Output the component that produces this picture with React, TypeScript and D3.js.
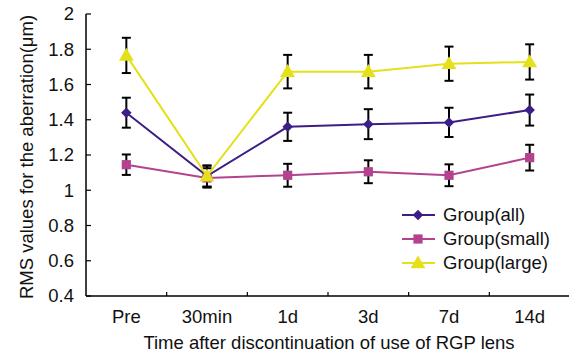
import * as React from 'react'
import * as d3 from 'd3'

const categories = ['Pre', '30min', '1d', '3d', '7d', '14d']
const groupNames = ['Group(all)', 'Group(small)', 'Group(large)']
const allValues = [1.44, 1.08, 1.36, 1.375, 1.385, 1.455]
const allErrors = [0.085, 0.06, 0.08, 0.085, 0.083, 0.088]
const smallValues = [1.145, 1.07, 1.085, 1.105, 1.085, 1.185]
const smallErrors = [0.058, 0.055, 0.065, 0.065, 0.062, 0.073]
const largeValues = [1.765, 1.08, 1.673, 1.673, 1.718, 1.728]
const largeErrors = [0.1, 0.06, 0.095, 0.095, 0.097, 0.1]
const yTicks = [0.4, 0.6, 0.8, 1, 1.2, 1.4, 1.6, 1.8, 2]

const colors = ['#3c1e86', '#b3438f', '#e4e019']
const markerShapes = [d3.symbolDiamond2, d3.symbolSquare, d3.symbolTriangle]
const markerSizes = [70, 85, 95]

const W = 569
const H = 354
const margin = { left: 86, right: -1, top: 14, bottom: 58 }
const font = 'Liberation Sans, Arial, sans-serif'
const fs = 18.5

export default function App() {
  const x = d3.scaleBand().domain(categories).range([margin.left, W - margin.right])
  const y = d3.scaleLinear().domain([0.4, 2]).range([H - margin.bottom, margin.top])
  const cx = (c: string) => (x(c) as number) + x.bandwidth() / 2

  const series = [
    { name: groupNames[0], values: allValues, errors: allErrors },
    { name: groupNames[1], values: smallValues, errors: smallErrors },
    { name: groupNames[2], values: largeValues, errors: largeErrors },
  ]

  const line = d3.line<number>()
    .x((_, i) => cx(categories[i]))
    .y(d => y(d))

  const x0 = margin.left
  const yBottom = y(0.4)

  return (
    <svg width={W} height={H} style={{ position: 'absolute', left: 0, top: 0, fontFamily: font }}>
      <rect width={W} height={H} fill="#fff" />

      {/* axes */}
      <line x1={x0} x2={x0} y1={y(2)} y2={yBottom} stroke="#000" strokeWidth={1.5} />
      <line x1={x0} x2={W} y1={yBottom} y2={yBottom} stroke="#000" strokeWidth={1.5} />
      {yTicks.map(t => (
        <g key={t}>
          <line x1={x0} x2={x0 + 5} y1={y(t)} y2={y(t)} stroke="#000" strokeWidth={1.2} />
          <text x={x0 - 12} y={y(t)} dy="0.35em" textAnchor="end" fontSize={fs} fill="#111">
            {d3.format('~g')(t)}
          </text>
        </g>
      ))}
      {categories.slice(1).map(c => (
        <line key={c} x1={x(c)} x2={x(c)} y1={yBottom} y2={yBottom - 4} stroke="#000" strokeWidth={1.2} />
      ))}
      {categories.map(c => (
        <text key={c} x={cx(c)} y={yBottom + 27} textAnchor="middle" fontSize={fs} fill="#111">{c}</text>
      ))}
      <text x={329} y={349} textAnchor="middle" fontSize={fs} fill="#111">
        Time after discontinuation of use of RGP lens
      </text>
      <text transform={`translate(33,${(y(2) + yBottom) / 2 + 2}) rotate(-90)`} textAnchor="middle" fontSize={fs} fill="#111">
        RMS values for the aberration(μm)
      </text>

      {/* error bars */}
      {series.map((s, si) => (
        <g key={'e' + si}>
          {s.values.map((v, i) => {
            const px = cx(categories[i])
            const top = y(v + s.errors[i])
            const bot = y(v - s.errors[i])
            return (
              <g key={i} stroke="#000" strokeWidth={2}>
                <line x1={px} x2={px} y1={top} y2={bot} />
                <line x1={px - 4.5} x2={px + 4.5} y1={top} y2={top} />
                <line x1={px - 4.5} x2={px + 4.5} y1={bot} y2={bot} />
              </g>
            )
          })}
        </g>
      ))}

      {/* lines and markers */}
      {series.map((s, si) => (
        <g key={'s' + si}>
          <path d={line(s.values) as string} fill="none" stroke={colors[si]} strokeWidth={2} />
          {s.values.map((v, i) => (
            <path
              key={i}
              d={d3.symbol(markerShapes[si], markerSizes[si])() as string}
              transform={`translate(${cx(categories[i])},${y(v) + (si === 2 ? 1 : 0)})`}
              fill={colors[si]}
            />
          ))}
        </g>
      ))}

      {/* legend */}
      {series.map((s, si) => {
        const ly = 215 + si * 24
        return (
          <g key={'l' + si}>
            <line x1={402} x2={435} y1={ly} y2={ly} stroke={colors[si]} strokeWidth={2} />
            <path
              d={d3.symbol(markerShapes[si], markerSizes[si])() as string}
              transform={`translate(418,${ly + (si === 2 ? 1 : 0)})`}
              fill={colors[si]}
            />
            <text x={443} y={ly} dy="0.35em" fontSize={fs} fill="#111">{s.name}</text>
          </g>
        )
      })}
    </svg>
  )
}
